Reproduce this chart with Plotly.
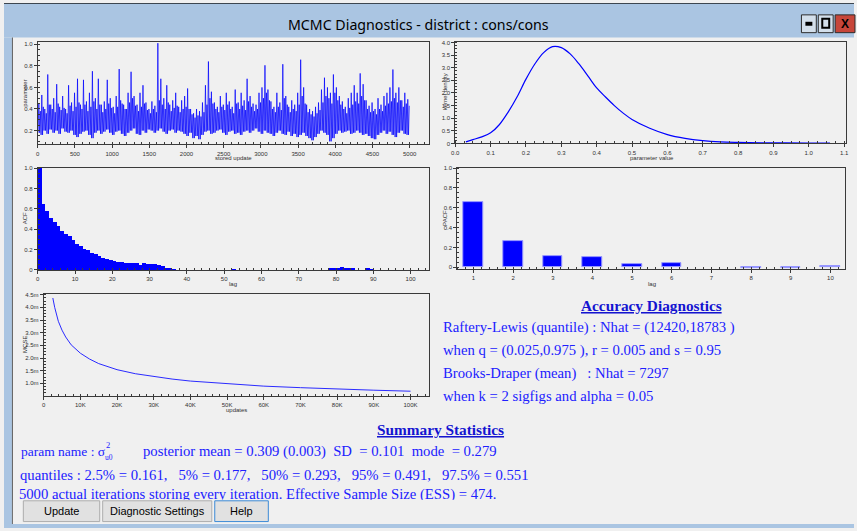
import plotly.graph_objects as go

W, H = 857, 531

# ---------------- data ----------------
trace_block = 40  # iterations per block
trace_hi = [
    0.45, 0.53, 0.40, 0.72, 0.44, 0.50, 0.63, 0.42, 0.52, 0.40,
    0.62, 0.46, 0.55, 0.68, 0.44, 0.67, 0.47, 0.55, 0.75, 0.50,
    0.68, 0.44, 0.47, 0.67, 0.50, 0.42, 0.52, 0.77, 0.45, 0.40,
    0.55, 0.745, 0.52, 0.44, 0.55, 0.62, 0.46, 0.40, 0.47, 0.43,
    1.01, 0.68, 0.50, 0.62, 0.44, 0.48, 0.55, 0.42, 0.48, 0.52,
    0.59, 0.40, 0.36, 0.40, 0.38, 0.46, 0.62, 0.84, 0.56, 0.46,
    0.42, 0.52, 0.44, 0.55, 0.47, 0.42, 0.58, 0.46, 0.55, 0.48,
    0.68, 0.52, 0.45, 0.44, 0.55, 0.60, 0.805, 0.58, 0.47, 0.42,
    0.55, 0.46, 0.815, 0.52, 0.42, 0.48, 0.44, 0.55, 0.857, 0.60,
    0.44, 0.40, 0.38, 0.42, 0.46, 0.58, 0.69, 0.60, 0.55, 0.72,
    0.60, 0.52, 0.47, 0.42, 0.50, 0.55, 0.62, 0.55, 0.73, 0.63,
    0.48, 0.43, 0.46, 0.40, 0.50, 0.44, 0.52, 0.55, 0.60, 0.766,
    0.55, 0.60, 0.48, 0.55, 0.49,
]
trace_core = [
    0.38, 0.42, 0.36, 0.44, 0.40, 0.37, 0.45, 0.39, 0.41, 0.36,
    0.43, 0.38, 0.42, 0.46, 0.40, 0.44, 0.38, 0.42, 0.47, 0.40,
    0.44, 0.37, 0.40, 0.45, 0.41, 0.36, 0.42, 0.48, 0.44, 0.40,
    0.46, 0.50, 0.43, 0.38, 0.42, 0.45, 0.39, 0.36, 0.40, 0.37,
    0.48, 0.44, 0.40, 0.46, 0.38, 0.41, 0.43, 0.37, 0.40, 0.42,
    0.40, 0.35, 0.32, 0.34, 0.33, 0.37, 0.44, 0.50, 0.45, 0.40,
    0.37, 0.42, 0.39, 0.44, 0.40, 0.36, 0.45, 0.40, 0.43, 0.39,
    0.47, 0.42, 0.38, 0.40, 0.46, 0.50, 0.55, 0.48, 0.40, 0.37,
    0.42, 0.39, 0.50, 0.44, 0.37, 0.40, 0.38, 0.44, 0.52, 0.45,
    0.37, 0.35, 0.33, 0.36, 0.39, 0.46, 0.52, 0.50, 0.45, 0.55,
    0.48, 0.44, 0.40, 0.36, 0.41, 0.44, 0.47, 0.45, 0.52, 0.48,
    0.40, 0.37, 0.38, 0.35, 0.40, 0.38, 0.43, 0.45, 0.47, 0.50,
    0.46, 0.48, 0.42, 0.45, 0.43,
]
trace_lo = [
    0.18, 0.16, 0.20, 0.17, 0.21, 0.18, 0.20, 0.17, 0.22, 0.19,
    0.18, 0.20, 0.16, 0.14, 0.17, 0.19, 0.20, 0.16, 0.13, 0.18,
    0.20, 0.17, 0.19, 0.21, 0.18, 0.16, 0.19, 0.20, 0.17, 0.15,
    0.18, 0.20, 0.22, 0.17, 0.16, 0.20, 0.18, 0.21, 0.20, 0.18,
    0.20, 0.22, 0.19, 0.17, 0.20, 0.21, 0.18, 0.20, 0.19, 0.17,
    0.15, 0.18, 0.13, 0.15, 0.12, 0.16, 0.19, 0.20, 0.17, 0.18,
    0.20, 0.21, 0.18, 0.16, 0.19, 0.20, 0.17, 0.18, 0.16, 0.19,
    0.20, 0.18, 0.20, 0.22, 0.19, 0.17, 0.20, 0.18, 0.17, 0.15,
    0.18, 0.20, 0.17, 0.16, 0.19, 0.15, 0.17, 0.14, 0.16, 0.18,
    0.15, 0.13, 0.11, 0.14, 0.17, 0.20, 0.18, 0.16, 0.10, 0.13,
    0.17, 0.20, 0.18, 0.19, 0.20, 0.17, 0.18, 0.20, 0.18, 0.16,
    0.17, 0.15, 0.13, 0.12, 0.16, 0.18, 0.20, 0.17, 0.19, 0.16,
    0.14, 0.18, 0.20, 0.17, 0.16,
]

kde_x = [0.03, 0.05, 0.075, 0.10, 0.125, 0.15, 0.175, 0.20, 0.225, 0.25,
         0.275, 0.30, 0.325, 0.35, 0.375, 0.40, 0.425, 0.45, 0.475, 0.50,
         0.55, 0.60, 0.65, 0.70, 0.75, 0.80, 0.90, 1.00, 1.06]
kde_y = [0.06, 0.15, 0.26, 0.42, 0.75, 1.25, 1.85, 2.55, 3.15, 3.60,
         3.84, 3.80, 3.55, 3.15, 2.68, 2.20, 1.84, 1.50, 1.20, 0.95,
         0.60, 0.35, 0.20, 0.11, 0.06, 0.04, 0.02, 0.015, 0.01]

acf_head = [1.0, 0.65, 0.575, 0.505, 0.465, 0.43, 0.385, 0.35, 0.33, 0.29,
            0.25, 0.235, 0.20, 0.19, 0.17, 0.155, 0.14, 0.12, 0.105, 0.095,
            0.085, 0.08, 0.075, 0.07, 0.065, 0.065, 0.065, 0.045, 0.07, 0.055,
            0.055, 0.055, 0.05, 0.035, 0.02, 0.015, 0.008]
acf_tail_lags = [52, 78, 79, 80, 81, 82, 83, 84, 88, 89]
acf_tail_vals = [0.005, 0.01, 0.012, 0.02, 0.025, 0.02, 0.012, 0.01, 0.01, 0.008]

pacf_lags = [1, 2, 3, 4, 5, 6, 7, 8, 9, 10]
pacf_vals = [0.657, 0.267, 0.113, 0.103, 0.033, 0.043, None, -0.012, -0.012, 0.01]

mcse_updates = [2500, 3000, 4000, 5000, 6000, 7500, 10000, 12500, 15000, 20000,
                25000, 30000, 35000, 40000, 50000, 60000, 70000, 80000, 90000, 100000]
mcse_vals = [4.37e-3, 4.0e-3, 3.45e-3, 3.1e-3, 2.83e-3, 2.52e-3, 2.19e-3, 1.96e-3, 1.78e-3, 1.54e-3,
             1.38e-3, 1.26e-3, 1.17e-3, 1.09e-3, 0.98e-3, 0.89e-3, 0.83e-3, 0.77e-3, 0.73e-3, 0.69e-3]

nhat_rl = "(12420,18783 )"
nhat_bd = "7297"
post_mean, post_mean_se, post_sd, post_mode = "0.309", "0.003", "0.101", "0.279"
q_labels = ["2.5%", "5%", "50%", "95%", "97.5%"]
q_values = ["0.161", "0.177", "0.293", "0.491", "0.551"]
n_iter, ess = 5000, 474

# ---------------- helpers ----------------
def fx(x):
    return x / W

def fy(y):
    return 1 - y / H

BLUE = "#0000ff"
BODY = "#2020ff"
TICKFONT = dict(size=6, family="Liberation Sans", color="#303030")

def axis(dom, rng, minor_dtick, **kw):
    d = dict(domain=dom, range=rng, showline=True, linecolor="#3a3a3a", linewidth=1,
             mirror=True, ticks="outside", ticklen=3, tickcolor="#3a3a3a", tickwidth=1,
             tickfont=TICKFONT, showgrid=False, zeroline=False, fixedrange=True,
             minor=dict(ticks="inside", ticklen=2, tickcolor="#3a3a3a", dtick=minor_dtick, showgrid=False))
    d.update(kw)
    return d

fig = go.Figure()

# trace plot: per block, min -> max -> min -> typical upper level
tx, ty = [], []
for k, (lo, hi, core) in enumerate(zip(trace_lo, trace_hi, trace_core)):
    base = k * trace_block
    tx += [base + 5, base + 15, base + 25, base + 35]
    ty += [lo, hi, lo, core]
fig.add_trace(go.Scatter(x=tx, y=ty, mode="lines", line=dict(color="rgba(0,0,255,0.8)", width=0.9),
                         xaxis="x", yaxis="y", showlegend=False, hoverinfo="skip"))

# kernel density
fig.add_trace(go.Scatter(x=kde_x, y=kde_y, mode="lines", line=dict(color=BLUE, width=1.2, shape="spline"),
                         xaxis="x2", yaxis="y2", showlegend=False))

# ACF
acf_lags = list(range(len(acf_head))) + acf_tail_lags
acf_vals = acf_head + acf_tail_vals
fig.add_trace(go.Bar(x=acf_lags, y=acf_vals, width=1, offset=0, marker=dict(color=BLUE, line=dict(width=0)),
                     xaxis="x3", yaxis="y3", showlegend=False))

# PACF
fig.add_trace(go.Bar(x=pacf_lags, y=pacf_vals, width=0.5,
                     marker=dict(color=BLUE, line=dict(color="#9a9aff", width=1)),
                     xaxis="x4", yaxis="y4", showlegend=False))

# MCSE
fig.add_trace(go.Scatter(x=mcse_updates, y=mcse_vals, mode="lines", line=dict(color="#2a2aff", width=1),
                         xaxis="x5", yaxis="y5", showlegend=False))

# last summary line, drawn on a full-window overlay so the button row can clip it
ess_line = "%d actual iterations storing every iteration. Effective Sample Size (ESS) = %d." % (n_iter, ess)
fig.add_trace(go.Scatter(x=[15], y=[497.5], mode="text", text=[ess_line], textposition="middle right",
                         textfont=dict(size=14.7, family="Liberation Serif", color=BODY),
                         xaxis="x6", yaxis="y6", showlegend=False, hoverinfo="skip"))

P1 = ([fx(34), fx(429)], [fy(143), fy(39)])
P2 = ([fx(455), fx(849)], [fy(142), fy(39)])
P3 = ([fx(34), fx(428)], [fy(270), fy(167)])
P4 = ([fx(457), fx(848)], [fy(269.3), fy(167)])
P5 = ([fx(40), fx(428)], [fy(397), fy(294)])

fig.update_layout(
    xaxis=axis(P1[0], [0, 5267], 100, anchor="y", tickvals=list(range(0, 5001, 500))),
    yaxis=axis(P1[1], [0.072, 1.025], 0.05, anchor="x", tickvals=[0.2, 0.4, 0.6, 0.8, 1.0],
               ticktext=["0.2", "0.4", "0.6", "0.8", "1.0"]),
    xaxis2=axis(P2[0], [0, 1.1055], 0.025, anchor="y2",
                tickvals=[i / 10 for i in range(12)], ticktext=["%.1f" % (i / 10) for i in range(12)]),
    yaxis2=axis(P2[1], [0, 4.04], 0.125, anchor="x2",
                tickvals=[0, 0.5, 1, 1.5, 2, 2.5, 3, 3.5, 4],
                ticktext=["0", "0.5", "1.0", "1.5", "2.0", "2.5", "3.0", "3.5", "4.0"]),
    xaxis3=axis(P3[0], [0, 104.8], 2, anchor="y3", tickvals=list(range(0, 101, 10))),
    yaxis3=axis(P3[1], [0, 1.0], 0.05, anchor="x3", tickvals=[0, 0.2, 0.4, 0.6, 0.8, 1.0],
                ticktext=["0", "0.2", "0.4", "0.6", "0.8", "1.0"]),
    xaxis4=axis(P4[0], [0.59, 10.37], 0.2, anchor="y4", tickvals=pacf_lags),
    yaxis4=axis(P4[1], [-0.02, 1.0], 0.05, anchor="x4", tickvals=[0, 0.2, 0.4, 0.6, 0.8, 1.0],
                ticktext=["0", "0.2", "0.4", "0.6", "0.8", "1.0"]),
    xaxis5=axis(P5[0], [0, 104900], 2000, anchor="y5", tickvals=list(range(0, 100001, 10000)),
                ticktext=["0"] + ["%dK" % k for k in range(10, 101, 10)]),
    yaxis5=axis(P5[1], [0.52e-3, 4.54e-3], 0.125e-3, anchor="x5",
                tickvals=[1.0e-3, 1.5e-3, 2.0e-3, 2.5e-3, 3.0e-3, 3.5e-3, 4.0e-3, 4.5e-3],
                ticktext=["1.0m", "1.5m", "2.0m", "2.5m", "3.0m", "3.5m", "4.0m", "4.5m"]),
    xaxis6=dict(domain=[0, 1], range=[0, W], visible=False, fixedrange=True, anchor="y6"),
    yaxis6=dict(domain=[0, 1], range=[H, 0], visible=False, fixedrange=True, anchor="x6"),
    bargap=0,
)

# ---------------- window chrome ----------------
shapes = []

def rect(x0, y0, x1, y1, fill, line_color=None, lw=0, layer="below"):
    shapes.append(dict(type="rect", xref="paper", yref="paper", x0=fx(x0), x1=fx(x1), y0=fy(y1), y1=fy(y0),
                       fillcolor=fill, line=dict(color=line_color or fill, width=lw), layer=layer))

rect(0, 0, W, 35, "#aac5e2")
rect(0, 0, W, 1, "#3c4650")
rect(0, 35, 8, H, "#aac5e2")
rect(8, 35, 9, 527, "#5f5f5f")
rect(0, 527, W, H, "#aac5e2")
# window buttons
rect(804, 12, 819, 30, "#d3dfeb", "#2c2c2c", 1)
rect(808, 19, 815, 23, "#000000")
rect(821, 12, 836, 30, "#d3dfeb", "#2c2c2c", 1)
rect(825, 16, 832, 25, "rgba(0,0,0,0)", "#000000", 2)
rect(838, 12, 858, 30, "#c7463a", "#2c2c2c", 1)
# button row (clips the last text line)
rect(9, 502.5, W, 527, "#f0f0f0", layer="above")
rect(19.5, 503.5, 96.5, 524.5, "#e1e1e1", "#adadad", 1, layer="above")
rect(99.5, 503.5, 209.5, 524.5, "#e1e1e1", "#adadad", 1, layer="above")
rect(212.5, 503.5, 266.5, 524.5, "#e1e1e1", "#3c8ad6", 1, layer="above")

annotations = []

def text(x, y, s, size=14.7, color=BODY, family="Liberation Serif", xanchor="left", bold=False,
         underline=False, **kw):
    f = dict(size=size, color=color, family=family)
    if underline:
        f["lineposition"] = "under"
    annotations.append(dict(xref="paper", yref="paper", x=fx(x), y=fy(y), text=("<b>%s</b>" % s) if bold else s,
                            showarrow=False, xanchor=xanchor, yanchor="middle", font=f, borderpad=0, **kw))

text(418, 22, "MCMC Diagnostics - district : cons/cons", size=14.2, color="#000000",
     family="Noto Sans", xanchor="center")
text(848, 21, "X", size=12, color="#000000", family="Liberation Sans", xanchor="center", bold=True)

# axis titles
AT = dict(size=6, color="#303030", family="Liberation Sans")
text(231, 157, "stored update", xanchor="center", **AT)
text(21, 91, "parameter", xanchor="center", textangle=-90, **AT)
text(653, 157, "parameter value", xanchor="center", **AT)
text(445, 90, "kernel density", xanchor="center", textangle=-90, **AT)
text(231, 284, "lag", xanchor="center", **AT)
text(21, 218, "ACF", xanchor="center", textangle=-90, **AT)
text(653, 284, "lag", xanchor="center", **AT)
text(444, 217, "PACF", xanchor="center", textangle=-90, **AT)
text(234, 412, "updates", xanchor="center", **AT)
text(21, 345, "MCSE", xanchor="center", textangle=-90, **AT)

HEAD = "#1414d0"
NB = "\u00a0"
text(653, 305.5, "Accuracy Diagnostics", size=15.3, color=HEAD, xanchor="center", bold=True, underline=True)
text(442, 328, "Raftery-Lewis (quantile) : Nhat = %s" % nhat_rl)
text(442, 351.5, "when q = (0.025,0.975 ), r = 0.005 and s = 0.95")
text(442, 374.5, "Brooks-Draper (mean)" + NB * 3 + ": Nhat = %s" % nhat_bd)
text(442, 397.5, "when k = 2 sigfigs and alpha = 0.05")

text(440, 431, "Summary Statistics", size=15.3, color=HEAD, xanchor="center", bold=True, underline=True)
text(16, 454, "param name : \u03c3", size=13.5)
text(101.5, 447.5, "2", size=8.5)
text(101, 460, "u0", size=7.5)
text(139, 453.5, ("posterior mean = %s (%s)" + NB * 2 + "SD" + NB * 2 + "= %s" + NB * 2 + "mode" + NB * 2 + "= %s")
     % (post_mean, post_mean_se, post_sd, post_mode))
qparts = ["%s = %s" % (l, v) for l, v in zip(q_labels, q_values)]
text(15, 477.5, "quantiles : " + ("," + NB * 3).join(qparts))

# button labels
BF = dict(size=11, family="Liberation Sans", color="#000000")
text(58, 514, "Update", xanchor="center", **BF)
text(154.5, 514, "Diagnostic Settings", xanchor="center", **BF)
text(239.5, 514, "Help", xanchor="center", **BF)

fig.update_layout(
    width=W, height=H, autosize=False,
    margin=dict(l=0, r=0, t=0, b=0, pad=0),
    paper_bgcolor="#f0f0f0", plot_bgcolor="rgba(0,0,0,0)",
    shapes=shapes, annotations=annotations,
    showlegend=False,
)

fig.write_html("out.html", config=dict(displayModeBar=False),
               post_script="document.body.style.margin='0';document.body.style.overflow='hidden';")
